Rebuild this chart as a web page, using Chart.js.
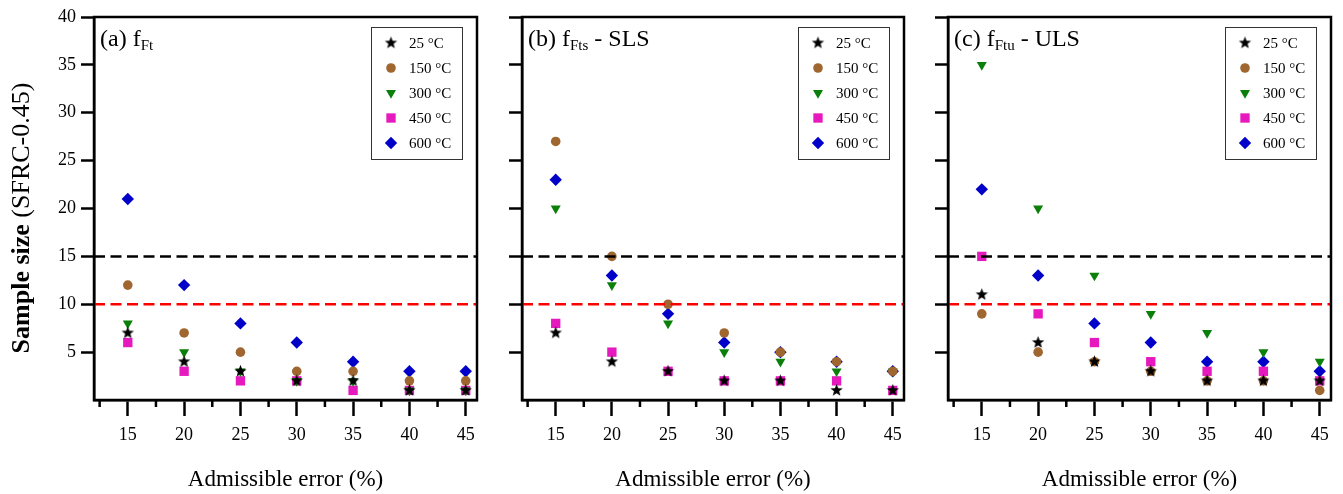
<!DOCTYPE html>
<html>
<head>
<meta charset="utf-8">
<script src="https://cdn.jsdelivr.net/npm/chart.js@4.4.1/dist/chart.umd.min.js"></script>
<style>
  html, body { margin: 0; padding: 0; background: #fff; }
  #wrap { position: relative; width: 1343px; height: 494px; overflow: hidden; }
  canvas { position: absolute; top: 0; }
</style>
</head>
<body>
<div id="wrap">
  <canvas id="c1" width="500" height="494" style="left:0px"></canvas>
  <canvas id="c2" width="424" height="494" style="left:500px"></canvas>
  <canvas id="c3" width="419" height="494" style="left:924px"></canvas>
</div>
<script>
// admissible error (%) on the x axis
const errors = [15, 20, 25, 30, 35, 40, 45];
const temps = ["25 °C", "150 °C", "300 °C", "450 °C", "600 °C"];
const xTicks = [15, 20, 25, 30, 35, 40, 45];
const xMinor = [12.5, 17.5, 22.5, 27.5, 32.5, 37.5, 42.5];
const yTicks = [5, 10, 15, 20, 25, 30, 35, 40];
const refLines = [15, 10];

// (a) fFt
const a25 = [7, 4, 3, 2, 2, 1, 1];
const a150 = [12, 7, 5, 3, 3, 2, 2];
const a300 = [8, 5, 3, 2, 2, 1, 1];
const a450 = [6, 3, 2, 2, 1, 1, 1];
const a600 = [21, 12, 8, 6, 4, 3, 3];

// (b) fFts - SLS
const b25 = [7, 4, 3, 2, 2, 1, 1];
const b150 = [27, 15, 10, 7, 5, 4, 3];
const b300 = [20, 12, 8, 5, 4, 3, 3];
const b450 = [8, 5, 3, 2, 2, 2, 1];
const b600 = [23, 13, 9, 6, 5, 4, 3];

// (c) fFtu - ULS
const c25 = [11, 6, 4, 3, 2, 2, 2];
const c150 = [9, 5, 4, 3, 2, 2, 1];
const c300 = [35, 20, 13, 9, 7, 5, 4];
const c450 = [15, 9, 6, 4, 3, 3, 2];
const c600 = [22, 13, 8, 6, 4, 4, 3];

const SERIF = '"Liberation Serif", "Times New Roman", serif';

function makeStar(r) {
    const c = document.createElement("canvas");
    const s = Math.ceil(r * 2 + 2);
    c.width = s;
    c.height = s;
    const g = c.getContext("2d");
    g.beginPath();
    for (let i = 0; i < 10; i++) {
        const rad = i % 2 ? r * 0.42 : r;
        const a = -Math.PI / 2 + i * Math.PI / 5;
        g.lineTo(s / 2 + rad * Math.cos(a), s / 2 + rad * Math.sin(a));
    }
    g.closePath();
    g.fillStyle = "#000";
    g.fill();
    return c;
}
const star = makeStar(6.5);

const markers = [
    { color: "#000000", style: star, radius: 6.5, rotation: 0 },
    { color: "#a0662f", style: "circle", radius: 4.8, rotation: 0 },
    { color: "#0a800a", style: "triangle", radius: 5.8, rotation: 180 },
    { color: "#e619be", style: "rect", radius: 6.6, rotation: 0 },
    { color: "#0000c8", style: "rectRot", radius: 6.2, rotation: 0 }
];

function panelPlugin(p) {
    return {
        id: "panelDecor" + p.id,
        afterDraw(chart) {
            const ctx = chart.ctx;
            const area = chart.chartArea;
            const xs = chart.scales.x;
            ctx.save();
            // frame
            ctx.strokeStyle = "#000";
            ctx.lineWidth = 2.5;
            ctx.strokeRect(area.left, area.top, area.right - area.left, area.bottom - area.top);
            // minor x ticks
            ctx.beginPath();
            xMinor.forEach((v) => {
                const px = xs.getPixelForValue(v);
                ctx.moveTo(px, area.bottom);
                ctx.lineTo(px, area.bottom + 7);
            });
            ctx.stroke();

            // panel title with subscript
            ctx.fillStyle = "#000";
            ctx.textBaseline = "alphabetic";
            let tx = area.left + 6;
            ctx.font = "24px " + SERIF;
            ctx.fillText(p.title, tx, 46);
            tx += ctx.measureText(p.title).width;
            ctx.font = "15px " + SERIF;
            ctx.fillText(p.sub, tx, 50);
            tx += ctx.measureText(p.sub).width;
            if (p.rest) {
                ctx.font = "24px " + SERIF;
                ctx.fillText(p.rest, tx, 46);
            }

            // legend box
            const bw = 91, bh = 132;
            const bx = area.right - 15 - bw;
            const by = area.top + 10;
            ctx.fillStyle = "#fff";
            ctx.fillRect(bx, by, bw, bh);
            ctx.strokeStyle = "#333";
            ctx.lineWidth = 1;
            ctx.strokeRect(bx + 0.5, by + 0.5, bw, bh);
            ctx.font = "15px " + SERIF;
            ctx.textBaseline = "middle";
            temps.forEach((t, i) => {
                const m = markers[i];
                const cy = by + 16 + 25 * i;
                ctx.fillStyle = m.color;
                ctx.strokeStyle = m.color;
                Chart.helpers.drawPoint(ctx, { pointStyle: m.style, radius: m.radius, rotation: m.rotation, borderWidth: 0 }, bx + 20, cy);
                ctx.fillStyle = "#000";
                ctx.fillText(t, bx + 38, cy + 1);
            });

            // y axis title (first panel only)
            if (p.yTitle) {
                ctx.save();
                ctx.translate(22, 218);
                ctx.rotate(-Math.PI / 2);
                ctx.textBaseline = "middle";
                ctx.font = "bold 26px " + SERIF;
                const bold = "Sample size ";
                ctx.font = "bold 26px " + SERIF;
                const w1 = ctx.measureText(bold).width;
                ctx.font = "26px " + SERIF;
                const rest = "(SFRC-0.45)";
                const w2 = ctx.measureText(rest).width;
                let sx = -(w1 + w2) / 2;
                ctx.font = "bold 26px " + SERIF;
                ctx.fillText(bold, sx, 0);
                ctx.font = "26px " + SERIF;
                ctx.fillText(rest, sx + w1, 0);
                ctx.restore();
            }
            ctx.restore();
        }
    };
}

function makePanel(p) {
    const datasets = p.series.map((vals, i) => ({
        label: temps[i],
        data: errors.map((e, j) => ({ x: e, y: vals[j] })),
        pointStyle: markers[i].style,
        pointRadius: markers[i].radius,
        pointRotation: markers[i].rotation,
        pointBackgroundColor: markers[i].color,
        pointBorderColor: markers[i].color,
        pointBorderWidth: 0,
        showLine: false
    }));
    refLines.forEach((v, k) => {
        datasets.push({
            label: "ref" + v,
            data: [{ x: 12, y: v }, { x: 46, y: v }],
            showLine: true,
            borderColor: k === 0 ? "#000" : "#ff0000",
            borderWidth: 2.5,
            borderDash: [11, 5.5],
            pointRadius: 0,
            order: -1
        });
    });

    return new Chart(document.getElementById(p.id), {
        type: "scatter",
        data: { datasets: datasets },
        options: {
            responsive: false,
            animation: false,
            events: [],
            devicePixelRatio: 1,
            layout: { padding: { left: 0, right: p.padRight, top: 17, bottom: 0 } },
            plugins: { legend: { display: false }, tooltip: { enabled: false } },
            scales: {
                x: {
                    type: "linear",
                    min: 12,
                    max: 46,
                    afterBuildTicks: (s) => { s.ticks = xTicks.map((v) => ({ value: v })); },
                    afterFit: (s) => { s.height = 94; },
                    ticks: { color: "#000", font: { family: SERIF, size: 18 }, padding: 8, maxRotation: 0, autoSkip: false },
                    grid: { drawOnChartArea: false, drawTicks: true, tickLength: 16, tickWidth: 2.5, tickColor: "#000" },
                    border: { display: true, color: "#000", width: 2.5 },
                    title: {
                        display: true,
                        text: "Admissible error (%)",
                        color: "#000",
                        font: { family: SERIF, size: 23, lineHeight: 1.2 },
                        padding: 0
                    }
                },
                y: {
                    type: "linear",
                    min: 0,
                    max: 40,
                    afterBuildTicks: (s) => { s.ticks = yTicks.map((v) => ({ value: v })); },
                    afterFit: (s) => { s.width = p.axisW; },
                    ticks: { display: p.yLabels, color: "#000", font: { family: SERIF, size: 18 }, padding: 5 },
                    grid: { drawOnChartArea: false, drawTicks: true, tickLength: 13, tickWidth: 2.5, tickColor: "#000" },
                    border: { display: true, color: "#000", width: 2.5 }
                }
            }
        },
        plugins: [panelPlugin(p)]
    });
}

makePanel({ id: "c1", series: [a25, a150, a300, a450, a600], title: "(a) f", sub: "Ft", rest: "", axisW: 94, padRight: 23, yLabels: true, yTitle: true });
makePanel({ id: "c2", series: [b25, b150, b300, b450, b600], title: "(b) f", sub: "Fts", rest: " - SLS", axisW: 22, padRight: 20, yLabels: false, yTitle: false });
makePanel({ id: "c3", series: [c25, c150, c300, c450, c600], title: "(c) f", sub: "Ftu", rest: " - ULS", axisW: 24, padRight: 12, yLabels: false, yTitle: false });
</script>
</body>
</html>
